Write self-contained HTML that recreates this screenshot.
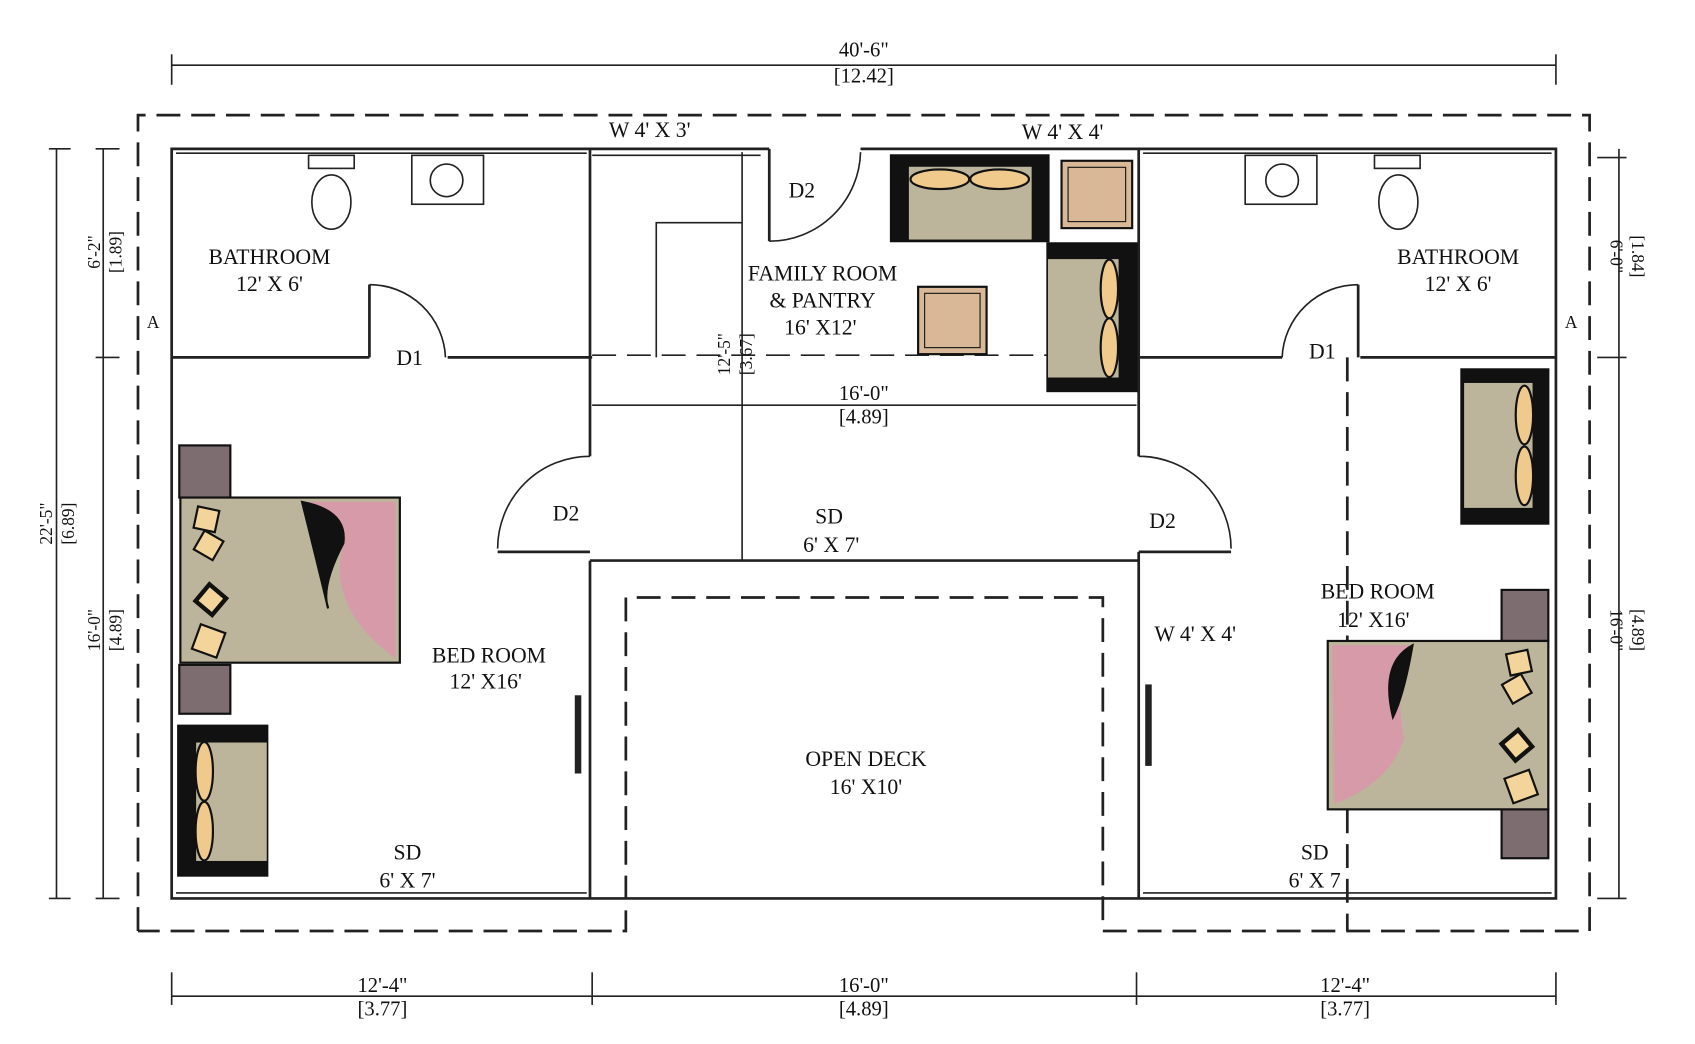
<!DOCTYPE html>
<html><head><meta charset="utf-8"><style>
html,body{margin:0;padding:0;background:#fff;width:1695px;height:1044px;overflow:hidden}
svg{display:block}
text{font-family:"Liberation Serif",serif;fill:#111}
</style></head><body>
<svg width="1695" height="1044" viewBox="0 0 1560 961" preserveAspectRatio="none" xmlns="http://www.w3.org/2000/svg">
<rect width="1560" height="961" fill="#fff"/>
<!-- dims -->
<g stroke="#222" stroke-width="1.5" fill="none">
<line x1="158" y1="60" x2="1432" y2="60"/><line x1="158" y1="50" x2="158" y2="78"/><line x1="1432" y1="50" x2="1432" y2="78"/>
<line x1="158" y1="917" x2="1432" y2="917"/>
<line x1="158" y1="895" x2="158" y2="925"/><line x1="545" y1="895" x2="545" y2="925"/><line x1="1046" y1="895" x2="1046" y2="925"/><line x1="1432" y1="895" x2="1432" y2="925"/>
<line x1="52" y1="137" x2="52" y2="827"/><line x1="45" y1="137" x2="65" y2="137"/><line x1="45" y1="827" x2="65" y2="827"/>
<line x1="95" y1="137" x2="95" y2="827"/><line x1="88" y1="329" x2="110" y2="329"/><line x1="88" y1="137" x2="110" y2="137"/><line x1="88" y1="827" x2="110" y2="827"/>
<line x1="1490" y1="137" x2="1490" y2="827"/><line x1="1470" y1="329" x2="1497" y2="329"/><line x1="1470" y1="145" x2="1497" y2="145"/><line x1="1470" y1="827" x2="1497" y2="827"/>
</g>
<g font-size="19" text-anchor="middle">
<text x="795" y="52">40'-6"</text><text x="795" y="76">[12.42]</text>
<text x="352" y="913">12'-4"</text><text x="352" y="935">[3.77]</text>
<text x="795" y="913">16'-0"</text><text x="795" y="935">[4.89]</text>
<text x="1238" y="913">12'-4"</text><text x="1238" y="935">[3.77]</text>
<text x="795" y="368">16'-0"</text><text x="795" y="390">[4.89]</text>
</g>
<g font-size="16" text-anchor="middle">
<text transform="translate(48,482) rotate(-90)">22'-5"</text><text transform="translate(68,482) rotate(-90)">[6.89]</text>
<text transform="translate(92,232) rotate(-90)">6'-2"</text><text transform="translate(112,232) rotate(-90)">[1.89]</text>
<text transform="translate(92,580) rotate(-90)">16'-0"</text><text transform="translate(112,580) rotate(-90)">[4.89]</text>
<text transform="translate(1482,236) rotate(90)">6'-0"</text><text transform="translate(1502,236) rotate(90)">[1.84]</text>
<text transform="translate(1482,580) rotate(90)">16'-0"</text><text transform="translate(1502,580) rotate(90)">[4.89]</text>
<text transform="translate(672,326) rotate(-90)">12'-5"</text><text transform="translate(692,326) rotate(-90)">[3.67]</text>
</g>
<!-- dashed boundary -->
<g stroke="#222" stroke-width="2.5" fill="none" stroke-dasharray="22,10">
<polyline points="127,857 127,106 1463,106 1463,857 1015,857 1015,550 576,550 576,857 127,857"/>
<line x1="1240" y1="329" x2="1240" y2="857"/>
<line x1="545" y1="327" x2="1045" y2="327" stroke-width="1.5"/>
</g>
<!-- walls -->
<g stroke="#222" stroke-width="2.5" fill="none">
<polyline points="708,137 158,137 158,827 1432,827 1432,137 792,137"/>
<line x1="158" y1="329" x2="340" y2="329"/><line x1="412" y1="329" x2="545" y2="329"/>
<line x1="1048" y1="329" x2="1180" y2="329"/><line x1="1252" y1="329" x2="1432" y2="329"/>
<polyline points="543,137 543,420"/><polyline points="543,516 543,827"/>
<polyline points="1048,137 1048,420"/><polyline points="1048,508 1048,827"/>
<line x1="458" y1="508" x2="543" y2="508"/><line x1="1048" y1="508" x2="1133" y2="508"/>
<line x1="543" y1="516" x2="1048" y2="516"/>
<line x1="708" y1="137" x2="708" y2="222"/>
<line x1="340" y1="262" x2="340" y2="329"/><line x1="1250" y1="262" x2="1250" y2="329"/>
</g>
<g stroke="#222" stroke-width="1.5" fill="none">
<path d="M543,420 A85,85 0 0 0 458,505"/>
<path d="M1048,420 A85,85 0 0 1 1133,505"/>
<path d="M708,222 A84,84 0 0 0 792,140"/>
<path d="M340,262 A70,70 0 0 1 410,329"/>
<path d="M1250,262 A70,70 0 0 0 1180,329"/>
<line x1="683" y1="140" x2="683" y2="516"/>
<polyline points="683,205 604,205 604,329"/>
<line x1="545" y1="373" x2="1046" y2="373"/>
<line x1="545" y1="143" x2="700" y2="143"/>
<line x1="162" y1="141" x2="540" y2="141"/><line x1="1052" y1="141" x2="1428" y2="141"/>
<line x1="162" y1="822" x2="540" y2="822"/><line x1="1052" y1="822" x2="1428" y2="822"/>
</g>
<g fill="#222"><rect x="529" y="640" width="6" height="72"/><rect x="1054" y="630" width="6" height="75"/></g>
<!-- fixtures -->
<g stroke="#222" stroke-width="1.5" fill="#fff">
<rect x="379" y="143" width="66" height="45"/><circle cx="411" cy="166" r="15"/>
<rect x="284" y="143" width="42" height="12"/><ellipse cx="305" cy="186" rx="18" ry="25"/>
<rect x="1146" y="143" width="66" height="45"/><circle cx="1180" cy="166" r="15"/>
<rect x="1265" y="143" width="42" height="12"/><ellipse cx="1287" cy="186" rx="18" ry="25"/>
</g>
<!-- furniture -->
<g stroke="#111" stroke-width="2">
<rect x="165" y="410" width="47" height="48" fill="#7d6d70"/><rect x="165" y="612" width="47" height="45" fill="#7d6d70"/>
<rect x="166" y="458" width="202" height="152" fill="#bcb59c"/>
<path d="M278,462 Q320,470 316,500 Q300,560 364,606 L364,462Z" fill="#d69aa8" stroke="none"/>
<path d="M278,462 Q320,470 316,500 Q295,540 302,560 Q290,510 278,462Z" fill="#111"/>
<rect x="180" y="468" width="20" height="20" fill="#f3d49a" transform="rotate(12 190 478)"/>
<rect x="182" y="492" width="20" height="20" fill="#f3d49a" transform="rotate(30 192 502)"/>
<rect x="184" y="542" width="20" height="20" fill="#f3d49a" stroke-width="4" transform="rotate(40 194 552)"/>
<rect x="180" y="578" width="24" height="24" fill="#f3d49a" transform="rotate(20 192 590)"/>
<rect x="164" y="668" width="82" height="138" fill="#111"/>
<rect x="180" y="683" width="66" height="110" fill="#bdb59b" stroke-width="1"/>
<ellipse cx="188" cy="710" rx="8" ry="27" fill="#f0c98c"/><ellipse cx="188" cy="765" rx="8" ry="27" fill="#f0c98c"/>
<rect x="820" y="143" width="145" height="79" fill="#111"/>
<rect x="836" y="153" width="114" height="68" fill="#bdb59b" stroke-width="1"/>
<ellipse cx="865" cy="165" rx="27" ry="9" fill="#f0c98c"/><ellipse cx="920" cy="165" rx="27" ry="9" fill="#f0c98c"/>
<rect x="977" y="148" width="65" height="62" fill="#d8b897"/><rect x="983" y="154" width="53" height="50" fill="#d8b897" stroke-width="1"/>
<rect x="964" y="224" width="82" height="136" fill="#111"/>
<rect x="964" y="238" width="66" height="110" fill="#bdb59b" stroke-width="1"/>
<ellipse cx="1021" cy="266" rx="8" ry="27" fill="#f0c98c"/><ellipse cx="1021" cy="320" rx="8" ry="27" fill="#f0c98c"/>
<rect x="845" y="264" width="63" height="62" fill="#d8b897"/><rect x="851" y="270" width="51" height="50" fill="#d8b897" stroke-width="1"/>
<rect x="1345" y="340" width="80" height="142" fill="#111"/>
<rect x="1347" y="352" width="64" height="116" fill="#bdb59b" stroke-width="1"/>
<ellipse cx="1403" cy="382" rx="8" ry="27" fill="#f0c98c"/><ellipse cx="1403" cy="438" rx="8" ry="27" fill="#f0c98c"/>
<rect x="1382" y="543" width="43" height="47" fill="#7d6d70"/><rect x="1382" y="745" width="43" height="45" fill="#7d6d70"/>
<rect x="1222" y="590" width="203" height="155" fill="#bcb59c"/>
<path d="M1226,594 L1300,594 Q1282,620 1292,680 Q1280,720 1228,740Z" fill="#d69aa8" stroke="none"/>
<path d="M1300,594 Q1270,610 1282,660 Q1292,640 1300,594Z" fill="#111"/>
<rect x="1388" y="600" width="20" height="20" fill="#f3d49a" transform="rotate(-12 1398 610)"/>
<rect x="1386" y="624" width="20" height="20" fill="#f3d49a" transform="rotate(-30 1396 634)"/>
<rect x="1386" y="676" width="20" height="20" fill="#f3d49a" stroke-width="4" transform="rotate(-40 1396 686)"/>
<rect x="1388" y="712" width="24" height="24" fill="#f3d49a" transform="rotate(-20 1400 724)"/>
</g>
<!-- labels -->
<g font-size="20" text-anchor="middle">
<text x="248" y="243">BATHROOM</text><text x="248" y="268">12' X 6'</text>
<text x="1342" y="243">BATHROOM</text><text x="1342" y="268">12' X 6'</text>
<text x="757" y="258">FAMILY ROOM</text><text x="757" y="283">&amp; PANTRY</text><text x="755" y="308">16' X12'</text>
<text x="738" y="182">D2</text><text x="377" y="336">D1</text><text x="1217" y="330">D1</text>
<text x="521" y="479">D2</text><text x="1070" y="486">D2</text>
<text x="763" y="482">SD</text><text x="765" y="508">6' X 7'</text>
<text x="450" y="610">BED ROOM</text><text x="447" y="634">12' X16'</text>
<text x="1268" y="551">BED ROOM</text><text x="1264" y="577">12' X16'</text>
<text x="797" y="705">OPEN DECK</text><text x="797" y="731">16' X10'</text>
<text x="375" y="791">SD</text><text x="375" y="817">6' X 7'</text>
<text x="1210" y="791">SD</text><text x="1210" y="817">6' X 7</text>
<text x="598" y="126">W 4' X 3'</text><text x="978" y="128">W 4' X 4'</text>
<text x="1100" y="590">W 4' X 4'</text>
<text x="141" y="302" font-size="16">A</text><text x="1446" y="302" font-size="16">A</text>
</g>
</svg>
</body></html>
